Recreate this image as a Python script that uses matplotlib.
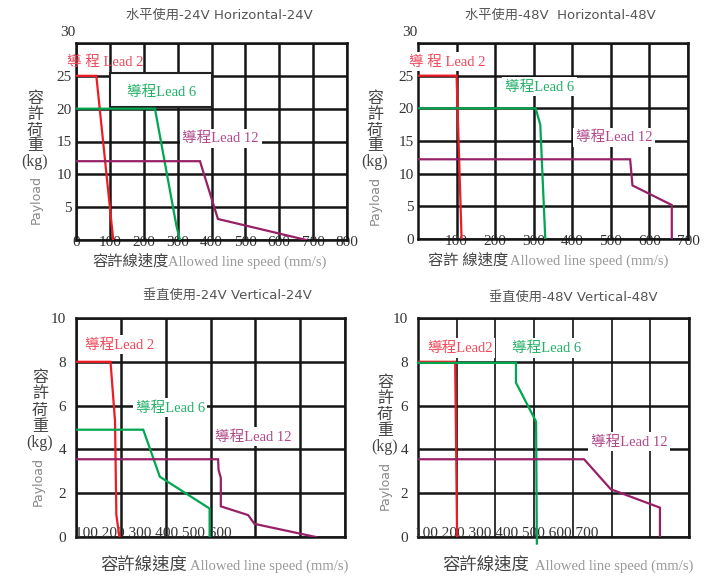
import matplotlib.pyplot as plt
from matplotlib.patches import Rectangle

W, H = 723, 577
fig = plt.figure(figsize=(7.23, 5.77), dpi=100)

SERIF = ['Liberation Serif', 'Noto Sans CJK TC']
SANS = ['DejaVu Sans', 'Noto Sans CJK TC']
RED, GREEN, PURPLE = '#ec1c24', '#00a650', '#982066'
RED_T, GREEN_T, PURPLE_T = '#f0485a', '#22b066', '#b0488a'

# ---- data (mm/s, kg) ----
# 水平使用-24V
h24_lead2_x = [0, 60, 110]
h24_lead2_y = [25, 25, 0]
h24_lead6_x = [0, 233, 297, 307]
h24_lead6_y = [20, 20, 2, 0]
h24_lead12_x = [0, 366, 419, 680]
h24_lead12_y = [12, 12, 3.2, 0]
# 水平使用-48V
h48_lead2_x = [0, 100, 113]
h48_lead2_y = [25, 25, 0]
h48_lead6_x = [0, 305, 317, 330]
h48_lead6_y = [20, 20, 17.5, 0]
h48_lead12_x = [0, 550, 556, 658, 658]
h48_lead12_y = [12.2, 12.2, 8.2, 5.2, 0]
# 垂直使用-24V
v24_lead2_x = [0, 77, 87, 90, 97]
v24_lead2_y = [8, 8, 5.3, 1, 0]
v24_lead6_x = [0, 150, 187, 298, 298]
v24_lead6_y = [4.9, 4.9, 2.75, 1.3, 0]
v24_lead12_x = [0, 317, 318, 323, 323, 384, 398, 535]
v24_lead12_y = [3.55, 3.55, 3.06, 2.7, 1.4, 1.0, 0.6, 0]
# 垂直使用-48V
v48_lead2_x = [0, 96, 101]
v48_lead2_y = [8, 8, 0]
v48_lead6_x = [0, 253, 253, 305, 307]
v48_lead6_y = [7.95, 7.95, 7.05, 5.27, -0.3]
v48_lead12_x = [0, 429, 498, 625, 625]
v48_lead12_y = [3.55, 3.55, 2.18, 1.34, 0]

h24_xticks = [0, 100, 200, 300, 400, 500, 600, 700, 800]
h48_xticks = [100, 200, 300, 400, 500, 600, 700]
v24_xlabels = ['100', '200', '300', '400', '500', '600']
v48_xlabels = ['100', '200', '300', '400', '500', '600', '700']
h_yticks = [0, 5, 10, 15, 20, 25, 30]
v_yticks = [0, 2, 4, 6, 8, 10]

titles = ['水平使用-24V Horizontal-24V', '水平使用-48V  Horizontal-48V',
          '垂直使用-24V Vertical-24V', '垂直使用-48V Vertical-48V']
ylab_chars = ['容', '許', '荷', '重', '(kg)']


def box(l, t, r, b):
    return [l / W, 1 - b / H, (r - l) / W, (b - t) / H]


def ftext(x, y, s, **kw):
    fig.text(x / W, 1 - y / H, s, **kw)


def setup(ax, xmax, ymax, ystep):
    ax.set_xlim(0, xmax)
    ax.set_ylim(0, ymax)
    ax.set_xticks(range(0, xmax + 1, 100))
    ax.set_yticks(range(0, ymax + 1, ystep))
    ax.grid(True, color='#151515', lw=1.8)
    ax.set_axisbelow(True)
    for s in ax.spines.values():
        s.set_linewidth(1.8)
        s.set_color('#151515')
    ax.tick_params(length=0, labelsize=11, colors='#333333')
    for t in ax.get_xticklabels() + ax.get_yticklabels():
        t.set_family(SERIF)


def lead(ax, x, y, c, **kw):
    ax.plot(x, y, color=c, lw=1.6, zorder=4, solid_joinstyle='miter', **kw)


def tag(ax, x, y, s, c):
    ax.text(x, y, s, color=c, fontsize=10.5, family=SERIF, ha='center', va='center', zorder=3,
            bbox=dict(facecolor='white', edgecolor='none', pad=2))


def top30(ax):
    ax.set_yticklabels([str(v) for v in h_yticks[:-1]] + [''])
    ax.annotate('30', xy=(0, 30), xytext=(-1, 10), textcoords='offset pixels', ha='right', va='center',
                fontsize=11, family=SERIF, color='#333333', annotation_clip=False)


# ---------- 水平使用-24V ----------
ax1 = fig.add_axes(box(76, 43, 347, 240))
setup(ax1, 800, 30, 5)
ax1.set_yticklabels([''] + [str(v) for v in h_yticks[1:]])
top30(ax1)
ax1.set_yticklabels([''] + [str(v) for v in h_yticks[1:-1]] + [''])
ax1.tick_params(axis='y', pad=3)
ax1.tick_params(axis='x', pad=-3)
ax1.add_patch(Rectangle((100, 20.2), 300, 5.3, facecolor='white', edgecolor='#222222', lw=1.5, zorder=1))
lead(ax1, h24_lead2_x, h24_lead2_y, RED)
lead(ax1, h24_lead6_x, h24_lead6_y, GREEN)
lead(ax1, h24_lead12_x, h24_lead12_y, PURPLE)
ax1.text(86, 27, '導 程 Lead 2', color=RED_T, fontsize=10.5, family=SERIF, ha='center', va='center', zorder=3)
ax1.text(252, 22.5, '導程Lead 6', color=GREEN_T, fontsize=10.5, family=SERIF, ha='center', va='center', zorder=3)
tag(ax1, 427, 15.5, '導程Lead 12', PURPLE_T)

# ---------- 水平使用-48V ----------
ax2 = fig.add_axes(box(418, 43, 688, 239))
setup(ax2, 700, 30, 5)
ax2.set_xticks(h48_xticks)
top30(ax2)
ax2.tick_params(axis='y', pad=3)
ax2.tick_params(axis='x', pad=-3)
lead(ax2, h48_lead2_x, h48_lead2_y, RED)
lead(ax2, h48_lead6_x, h48_lead6_y, GREEN)
lead(ax2, h48_lead12_x, h48_lead12_y, PURPLE)
tag(ax2, 75, 27.1, '導 程 Lead 2', RED_T)
tag(ax2, 315, 23.3, '導程Lead 6', GREEN_T)
tag(ax2, 508, 15.5, '導程Lead 12', PURPLE_T)

# ---------- 垂直使用-24V ----------
ax3 = fig.add_axes(box(76, 318, 345, 537))
setup(ax3, 600, 10, 2)
ax3.tick_params(axis='y', pad=7)
ax3.tick_params(axis='x', labelbottom=False)
lead(ax3, v24_lead2_x, v24_lead2_y, RED)
lead(ax3, v24_lead6_x, v24_lead6_y, GREEN)
lead(ax3, v24_lead12_x, v24_lead12_y, PURPLE)
tag(ax3, 98, 8.77, '導程Lead 2', RED_T)
tag(ax3, 210, 5.9, '導程Lead 6', GREEN_T)
tag(ax3, 396, 4.57, '導程Lead 12', PURPLE_T)
ax3.annotate(' '.join(v24_xlabels), xy=(0, 0), xytext=(-1, 0), textcoords='offset pixels',
             ha='left', va='baseline', fontsize=11, family=SERIF, color='#333333', annotation_clip=False)

# ---------- 垂直使用-48V ----------
ax4 = fig.add_axes(box(418, 318, 689, 537))
setup(ax4, 700, 10, 2)
ax4.tick_params(axis='y', pad=7)
ax4.tick_params(axis='x', labelbottom=False)
for gl in ax4.get_xgridlines():
    gl.set_linewidth(1.4)
    gl.set_color('#333333')
lead(ax4, v48_lead2_x, v48_lead2_y, RED)
lead(ax4, v48_lead6_x, v48_lead6_y, GREEN, clip_on=False)
lead(ax4, v48_lead12_x, v48_lead12_y, PURPLE)
tag(ax4, 108, 8.63, '導程Lead2', RED_T)
tag(ax4, 332, 8.63, '導程Lead 6', GREEN_T)
tag(ax4, 546, 4.34, '導程Lead 12', PURPLE_T)
ax4.annotate(' '.join(v48_xlabels), xy=(0, 0), xytext=(-3, 0), textcoords='offset pixels',
             ha='left', va='baseline', fontsize=11, family=SERIF, color='#333333', annotation_clip=False)

# ---------- titles / axis labels ----------
for (cx, cy), t in zip([(219, 15), (560, 15), (227, 295), (573, 297)], titles):
    ftext(cx, cy, t, ha='center', va='center', fontsize=9.5, family=SANS, color='#555555')

for x0, y0, y1, px, py in [(35, 99, 162, 36, 200), (375, 99, 162, 375, 201),
                           (40, 378, 443, 38, 482), (385, 383, 447, 385, 485)]:
    step = (y1 - y0) / (len(ylab_chars) - 1)
    for i, ch in enumerate(ylab_chars):
        ftext(x0, y0 + i * step, ch, ha='center', va='center', fontsize=11.5, family=SERIF, color='#444444')
    ftext(px, py, 'Payload', ha='center', va='center', rotation=90, fontsize=9, family=SANS, color='#888888')

for cjk, xc, xe, base, fs in [('容許線速度', 92, 168, 266, 11), ('容許 線速度', 428, 510, 265, 11),
                              ('容許線速度', 100, 190, 570, 12.5), ('容許線速度', 442, 535, 570, 12.5)]:
    ftext(xc, base, cjk, ha='left', va='baseline', fontsize=fs, family=SERIF, color='#444444')
    ftext(xe, base, 'Allowed line speed (mm/s)', ha='left', va='baseline', fontsize=10.5,
          family=SERIF, color='#999999')

plt.savefig('out.png', dpi=100)
plt.close()
